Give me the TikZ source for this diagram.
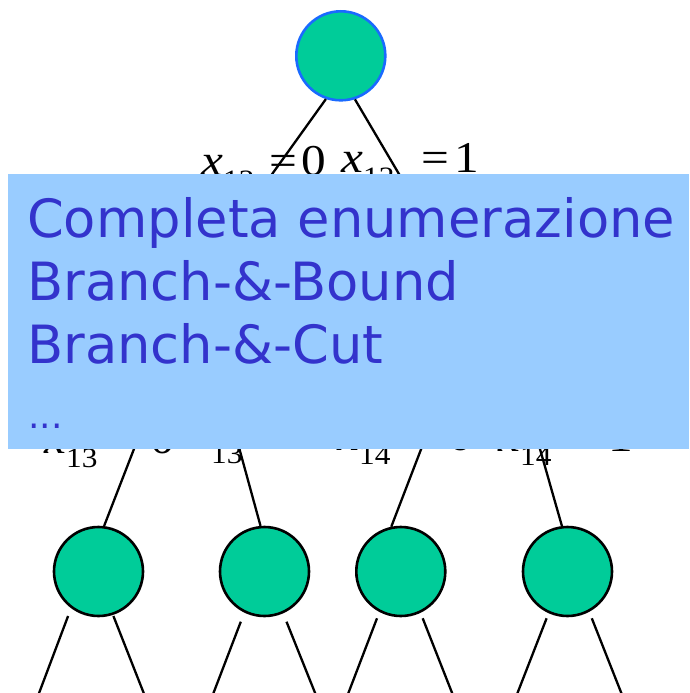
\documentclass[tikz,border=0pt]{standalone}
\usepackage{fontspec}
\setmainfont{Liberation Serif}
\newfontfamily\boxfont{DejaVu Sans}

\definecolor{nodegreen}{HTML}{00CC99}
\definecolor{rootblue}{HTML}{1A6AFF}
\definecolor{panelblue}{HTML}{99CCFF}
\definecolor{textblue}{HTML}{3333CC}

% branching label: x_{sub} = rhs, with an adjustable gap before "="
\newcommand\brlab[3]{\textit{x}\raisebox{-14pt}{\fontsize{28}{28}\selectfont #1}\hspace{#3}=\hspace{4pt}#2}

\tikzset{
  leaf/.style={circle, minimum size=89pt, inner sep=0pt, fill=nodegreen, draw=black, line width=2.6pt},
  rootnode/.style={leaf, draw=rootblue},
  edge/.style={line width=2.3pt, line cap=butt},
  lbl/.style={anchor=base west, inner sep=0pt, xscale=1.12, font=\fontsize{44}{44}\selectfont},
  boxtxt/.style={anchor=base west, inner sep=0pt, text=textblue, font=\boxfont\fontsize{52.7}{52.7}\selectfont},
}

\begin{document}
\begin{tikzpicture}[x=1pt,y=-1pt]
\useasboundingbox (0,0) rectangle (689,693);
\fill[white] (0,0) rectangle (689,693);

% tree nodes
\node[rootnode] (root) at (340.8,55.8) {};
\node[leaf] (n1) at (98.5,571.5) {};
\node[leaf] (n2) at (264.5,571.5) {};
\node[leaf] (n3) at (400.8,571.5) {};
\node[leaf] (n4) at (567.5,571.5) {};

% hidden ends of the branches behind the panel
\coordinate (rl) at (232,230);
\coordinate (rr) at (432,230);
\coordinate (p1) at (153,400);
\coordinate (p2) at (226,400);
\coordinate (p3) at (440,400);
\coordinate (p4) at (526,400);

\draw[edge] (root.251) -- (rl);
\draw[edge] (root.288) -- (rr);
\draw[edge] (p1) -- (n1.83);
\draw[edge] (p2) -- (n2.95);
\draw[edge] (p3) -- (n3.102);
\draw[edge] (p4) -- (n4.97);

% branches leaving the lower nodes
\coordinate (a1) at (68.1,616);   \coordinate (b1) at (38.7,694);
\coordinate (a2) at (113.4,616);  \coordinate (b2) at (144.1,694);
\coordinate (a3) at (240.8,621.7);\coordinate (b3) at (213.1,694);
\coordinate (a4) at (286.5,621.7);\coordinate (b4) at (315.5,694);
\coordinate (a5) at (377,618.3);  \coordinate (b5) at (348,694);
\coordinate (a6) at (422.7,618.3);\coordinate (b6) at (452.5,694);
\coordinate (a7) at (546.6,618.3);\coordinate (b7) at (517.1,694);
\coordinate (a8) at (591.8,618.3);\coordinate (b8) at (621.7,694);
\foreach \i in {1,...,8} { \draw[edge] (a\i) -- (b\i); }

% branching labels
\node[lbl] (l12a) at (201,175) {\brlab{12}{0}{13pt}};
\node[lbl] (l12b) at (341,172) {\brlab{12}{1}{24.5pt}};
\node[lbl] (l13a) at (44,453) {\brlab{13}{0}{19pt}};
\node[lbl] (l13b) at (189,449) {\brlab{13}{1}{24pt}};
\node[lbl] (l14a) at (337,450) {\brlab{14}{0}{23pt}};
\node[lbl] (l14b) at (498,451) {\brlab{14}{1}{22pt}};

% overlay panel
\fill[panelblue] (8,174) rectangle (689,449);
\node[boxtxt] (t1) at (27,237) {Completa enumerazione};
\node[boxtxt] (t2) at (27,300) {Branch-\&-Bound};
\node[boxtxt] (t3) at (27,363) {Branch-\&-Cut};
\node[boxtxt, font=\boxfont\fontsize{36}{36}\selectfont] (t4) at (28,428) {...};
\end{tikzpicture}
\end{document}
